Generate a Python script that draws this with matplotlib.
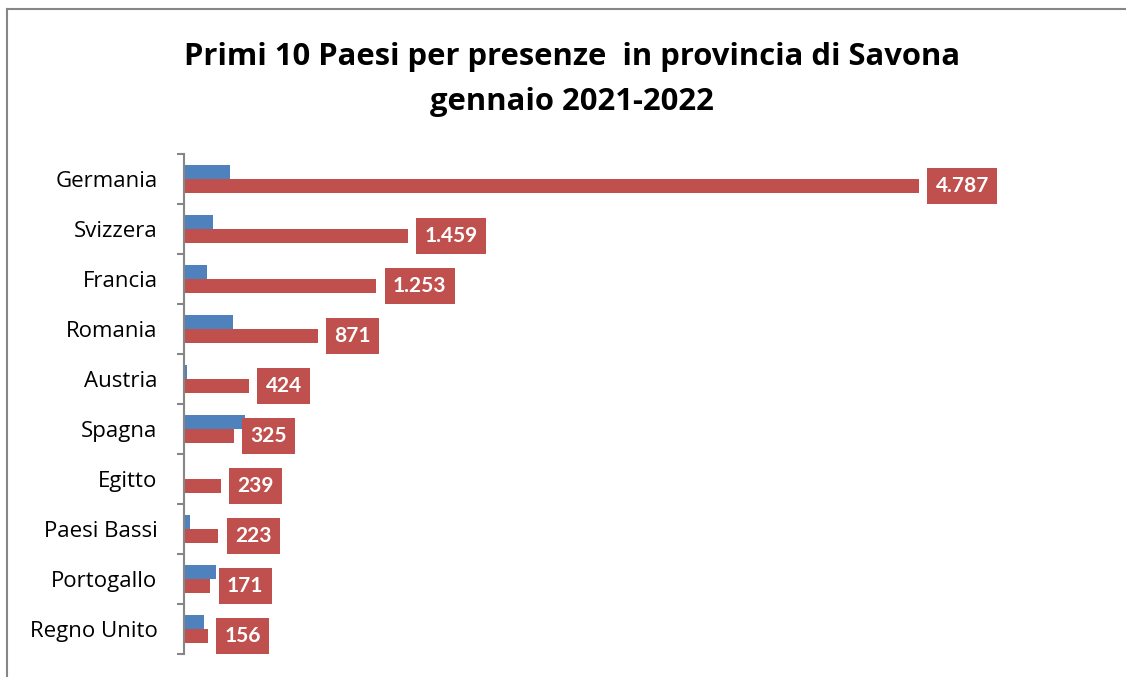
import numpy as np
import matplotlib
matplotlib.use("Agg")
import matplotlib.pyplot as plt
from matplotlib.lines import Line2D

plt.rcParams['font.family'] = ['Lato', 'DejaVu Sans']

# data
paesi = ['Germania', 'Svizzera', 'Francia', 'Romania', 'Austria',
         'Spagna', 'Egitto', 'Paesi Bassi', 'Portogallo', 'Regno Unito']
presenze_2021 = [301, 192, 151, 316, 18, 400, 0, 41, 210, 131]
presenze_2022 = [4787, 1459, 1253, 871, 424, 325, 239, 223, 171, 156]

blu = '#4F81BD'
rosso = '#C0504D'
grigio = '#868686'

fig = plt.figure(figsize=(11.26, 6.77), dpi=100)
ax = fig.add_axes([184 / 1126, 1 - 654 / 677, 921 / 1126, 500 / 677])

y = np.arange(len(paesi))
h = 0.28
ax.barh(y - h / 2, presenze_2021, height=h, color=blu)
ax.barh(y + h / 2, presenze_2022, height=h, color=rosso)

ax.set_xlim(0, 6000)
ax.set_ylim(len(paesi) - 0.5, -0.5)

# etichette valori (formato italiano)
for yi, v in zip(y, presenze_2022):
    testo = f"{v:,}".replace(',', '.')
    ax.annotate(testo, xy=(v, yi + h / 2), xytext=(12, 0),
                textcoords='offset points', ha='left', va='center',
                fontsize=15, fontweight='bold', color='white',
                bbox=dict(boxstyle='square,pad=0.4', fc=rosso, ec='none'))

# assi
for s in ['top', 'right', 'bottom']:
    ax.spines[s].set_visible(False)
ax.spines['left'].set_color(grigio)
ax.spines['left'].set_linewidth(1.5)
ax.set_xticks([])
ax.set_yticks(np.arange(-0.5, len(paesi), 1))
ax.set_yticklabels([])
ax.tick_params(axis='y', which='major', length=5, width=1.5, color=grigio)
ax.set_yticks(y, minor=True)
ax.set_yticklabels(paesi, minor=True, fontsize=16, family=['Open Sans', 'DejaVu Sans'])
ax.tick_params(axis='y', which='minor', length=0, pad=19)

titolo = dict(ha='center', va='center', fontsize=22.3, fontweight='bold',
              family=['Open Sans', 'DejaVu Sans'])
fig.text(572 / 1126, 1 - 57 / 677, 'Primi 10 Paesi per presenze  in provincia di Savona', **titolo)
fig.text(572 / 1126, 1 - 102 / 677, 'gennaio 2021-2022', **titolo)

# cornice del grafico
fig.add_artist(Line2D([7 / 1126, 7 / 1126], [0, 1 - 9 / 677], transform=fig.transFigure,
                      color=grigio, lw=1.5))
fig.add_artist(Line2D([7 / 1126, 1], [1 - 9 / 677, 1 - 9 / 677], transform=fig.transFigure,
                      color=grigio, lw=1.5))

fig.savefig('out.png', dpi=100)
